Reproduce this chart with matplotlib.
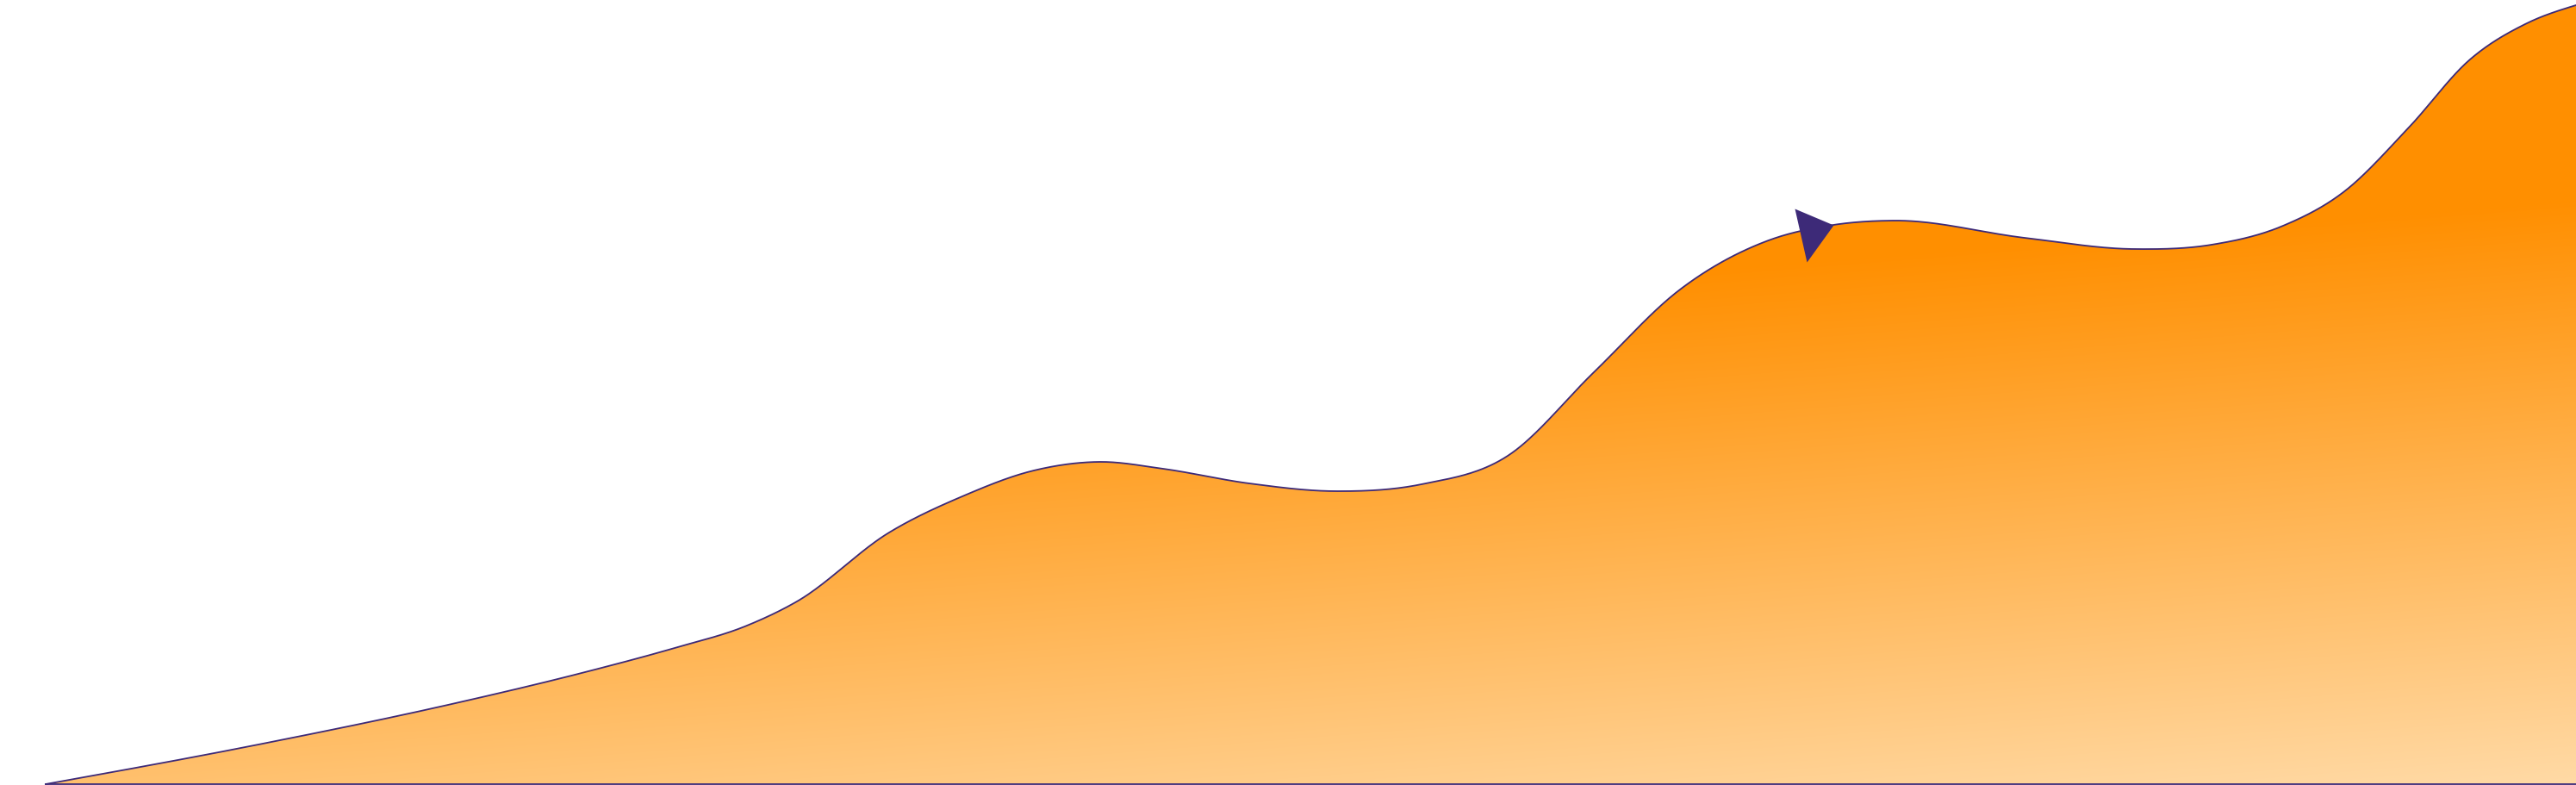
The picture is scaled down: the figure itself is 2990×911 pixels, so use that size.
import numpy as np
import matplotlib
matplotlib.use('Agg')
import matplotlib.pyplot as plt
from matplotlib.patches import Polygon

# curve: x position and height above the baseline
x_vals = [53, 300, 520, 683, 783, 867, 925, 1032, 1117, 1200, 1277, 1350,
          1450, 1550, 1650, 1750, 1850, 1950, 2050, 2128, 2200, 2350,
          2477, 2567, 2650, 2720, 2795, 2867, 2933, 2990]
heights = [0, 46, 92, 131, 158, 184, 212, 292, 334, 364, 374, 366,
           349, 340, 348, 381, 478, 574, 630, 649, 654, 634,
           621, 626, 648, 687, 761, 841, 883, 904]

# the triangle marker
marker_x = [2103]
marker_h = [641]

line_color = '#3d2a78'
top_color = np.array([255, 143, 0]) / 255
bottom_color = np.array([255, 218, 166]) / 255

W, H = 2990, 912


def smooth_line(xs, ys, per_seg=40):
    # cubic hermite through the points (parabolic tangents), for drawing only
    xs = np.asarray(xs, float)
    ys = np.asarray(ys, float)
    h = np.diff(xs)
    s = np.diff(ys) / h
    n = len(xs)
    m = np.zeros(n)
    m[1:-1] = (s[:-1] * h[1:] + s[1:] * h[:-1]) / (h[:-1] + h[1:])
    m[0] = (3 * s[0] - m[1]) / 2
    m[-1] = (3 * s[-1] - m[-2]) / 2
    px, py = [xs[0]], [ys[0]]
    u = np.linspace(0, 1, per_seg + 1)[1:]
    for i in range(n - 1):
        h00 = 2 * u**3 - 3 * u**2 + 1
        h10 = u**3 - 2 * u**2 + u
        h01 = -2 * u**3 + 3 * u**2
        h11 = u**3 - u**2
        px.extend(xs[i] + u * h[i])
        py.extend(h00 * ys[i] + h10 * h[i] * m[i] + h01 * ys[i + 1] + h11 * h[i] * m[i + 1])
    return np.array(px), np.array(py)


fig = plt.figure(figsize=(W / 100, H / 100), dpi=100)
ax = fig.add_axes([0, 0, 1, 1])
ax.set_xlim(0, W)
ax.set_ylim(-1, H - 1)
ax.axis('off')

cx, cy = smooth_line(x_vals, heights)

# slightly tilted vertical gradient, clipped to the area
gx, gy = np.meshgrid(np.arange(0, W, 2), np.arange(0, H, 2))
t = np.clip((gy + 0.08 * gx - 470) / 680, 0, 1)[..., None]
img = top_color * (1 - t) + bottom_color * t

area = Polygon(np.column_stack([np.r_[cx, cx[-1], cx[0]], np.r_[cy, 0, 0]]),
               closed=True, facecolor='none', edgecolor='none')
ax.add_patch(area)
im = ax.imshow(img, extent=(0, W, -1, H - 1), origin='upper', aspect='auto',
               interpolation='bilinear', zorder=1)
im.set_clip_path(area)

ax.plot(cx, cy, color=line_color, lw=1.3, zorder=3)
ax.plot([x_vals[0], x_vals[-1]], [0, 0], color=line_color, lw=1.3, zorder=3)

tri = [(-20, 27), (25, 8), (-6, -35)]
ax.plot(marker_x, marker_h, linestyle='none', marker=tri, markersize=50.4,
        color=line_color, markeredgewidth=0, zorder=4)

fig.savefig('out.png', dpi=100)
